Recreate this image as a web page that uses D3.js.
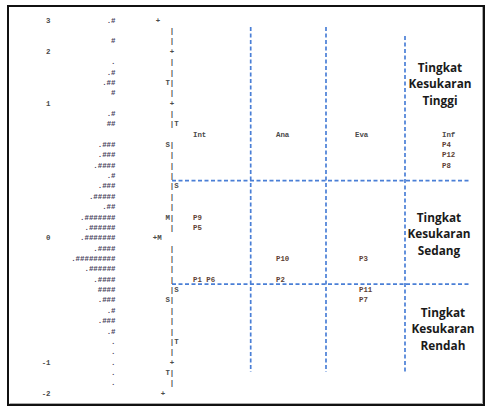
<!DOCTYPE html>
<html><head><meta charset="utf-8">
<script src="https://cdn.jsdelivr.net/npm/d3@7/dist/d3.min.js"></script>
<style>body{margin:0;background:#fff}svg{display:block}</style>
</head><body>
<script>
// ---- data ----
const logitRows = [0, 3, 8, 21, 33, 36];
const logitText = ["3", "2", "1", "0", "-1", "-2"];
const personMap = [".#", "", "#", "", ".", ".#", ".##", "#", "", ".#", "##", "",
  ".###", ".###", ".####", ".#", ".###", ".#####", ".##", ".#######", ".######",
  ".#######", ".####", ".#########", ".######", ".####", "####", ".###", ".#",
  ".###", ".#", ".", ".", ".", ".", ".", ""];
const axisMarks = ["+", "|", "|", "+", "|", "|", "T|", "|", "+", "|", "|T", "",
  "S|", "|", "|", "|", "|S", "|", "|", "M|", "|", "+M", "|", "|", "|", "|",
  "|S", "S|", "|", "|", "|", "|T", "|", "+", "T|", "|", "+"];
const domains = ["Int", "Ana", "Eva", "Inf"];
const headerRow = 11;
const itemLabels = ["P4", "P12", "P8", "P9", "P5", "P10", "P3", "P1 P6", "P2", "P11", "P7"];
const itemDomain = ["Inf", "Inf", "Inf", "Int", "Int", "Ana", "Eva", "Int", "Ana", "Eva", "Eva"];
const itemRow = [12, 13, 14, 19, 20, 23, 23, 25, 25, 26, 27];
const zoneBounds = [15.5, 25.5];
const zoneNames = [["Tingkat", "Kesukaran", "Tinggi"], ["Tingkat", "Kesukaran", "Sedang"], ["Tingkat", "Kesukaran", "Rendah"]];

// ---- layout ----
const W = 495, H = 412;
const cw = 4.4; // monospace char width
const svg = d3.select("body").append("svg").attr("width", W).attr("height", H);
const y = d3.scaleLinear().domain([0, 36]).range([20, 393]);
const x = d3.scalePoint().domain(domains).range([193, 442]);
const mono = "'Liberation Mono', monospace";
const fs = 7.4;
const base = 2.7;

// frame
svg.append("rect").attr("x", 8).attr("y", 6).attr("width", 476).attr("height", 399)
  .attr("fill", "none").attr("stroke", "#111").attr("stroke-width", 2);
svg.append("path").attr("d", "M9.5,403.5H482.5V7").attr("fill", "none").attr("stroke", "#aaa").attr("stroke-width", 1);

// dashed grid
const blue = "#4a7fd6";
const dividers = [{x: 250.7, y0: 27}, {x: 326, y0: 27}, {x: 405, y0: 36}];
svg.selectAll("line.v").data(dividers).enter().append("line")
  .attr("x1", d => d.x).attr("x2", d => d.x).attr("y1", d => d.y0).attr("y2", 372)
  .attr("stroke", blue).attr("stroke-width", 1.7).attr("stroke-dasharray", "4,2.5");
svg.selectAll("line.h").data(zoneBounds).enter().append("line")
  .attr("x1", 172).attr("x2", 470).attr("y1", d => y(d)).attr("y2", d => y(d))
  .attr("stroke", blue).attr("stroke-width", 1.7).attr("stroke-dasharray", "4,2.5");

const txt = (sel) => sel.attr("font-family", mono).attr("font-size", fs).attr("font-weight", "bold");

// logit labels
txt(svg.selectAll("text.logit").data(logitRows).enter().append("text")
  .attr("x", 50.5).attr("y", d => y(d) + base).attr("text-anchor", "end")
  .attr("fill", "#4a4a4a")
  .text((d, i) => logitText[i]));

// persons
txt(svg.selectAll("text.person").data(personMap).enter().append("text")
  .attr("x", 115.5).attr("y", (d, i) => y(i) + base).attr("text-anchor", "end")
  .attr("fill", "#45405a")
  .attr("xml:space", "preserve").text(d => d));

// axis marks
const barX = 172;
const shift = {0: -14, 21: -17, 36: -9};
txt(svg.selectAll("text.axis").data(axisMarks).enter().append("text")
  .attr("x", (d, i) => {
    let idx = d.indexOf("|");
    if (idx < 0) idx = 0;
    return barX - (idx + 0.5) * cw + (shift[i] || 0);
  })
  .attr("y", (d, i) => y(i) + base)
  .attr("fill", "#4a4a4a")
  .text(d => d));

// headers
txt(svg.selectAll("text.hdr").data(domains).enter().append("text")
  .attr("x", d => x(d) + (d === "Eva" ? -4 : 0)).attr("y", y(headerRow) + base)
  .attr("fill", "#4a4a4a")
  .text(d => d));

// items
txt(svg.selectAll("text.item").data(itemLabels).enter().append("text")
  .attr("x", (d, i) => x(itemDomain[i])).attr("y", (d, i) => y(itemRow[i]) + base)
  .attr("fill", "#5e3f34")
  .attr("xml:space", "preserve").text(d => d));

// zone labels
const zoneCenters = [{cx: 440, row: 6.2}, {cx: 439, row: 20.7}, {cx: 443, row: 29.85}];
zoneNames.forEach((lines, zi) => {
  const c = zoneCenters[zi];
  lines.forEach((t, li) => {
    svg.append("text").attr("x", c.cx).attr("y", y(c.row) + (li - 1) * 16.5 + 4)
      .attr("text-anchor", "middle").attr("font-family", "'Open Sans', sans-serif")
      .attr("font-weight", "bold").attr("font-size", 11.8).attr("fill", "#1a1a1a")
      .text(t);
  });
});
</script>
</body></html>
